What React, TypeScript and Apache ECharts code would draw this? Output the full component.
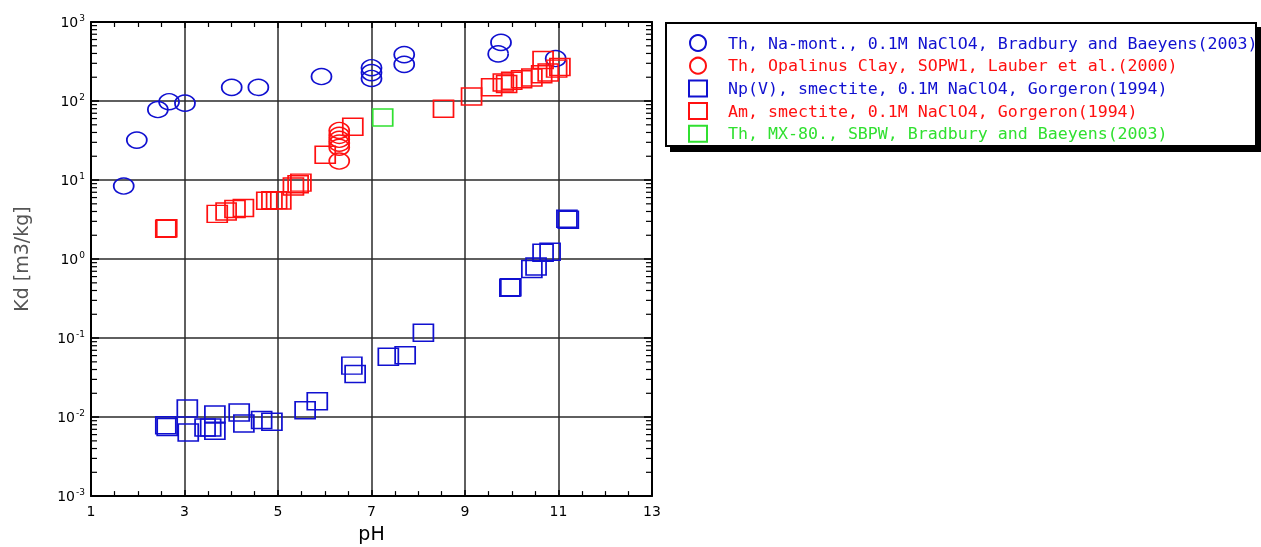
import React, { useEffect, useRef } from "react";
import * as echarts from "echarts";

// [pH, Kd (m3/kg)]
const thNaMont: number[][] = [
  [1.7, 8.4], [1.98, 32], [2.43, 78], [2.67, 98], [3.01, 94],
  [4.01, 149], [4.58, 149], [5.93, 204],
  [7.0, 264], [7.0, 229], [7.0, 193],
  [7.7, 387], [7.7, 291],
  [9.77, 552], [9.71, 395], [10.94, 345],
];
const thOpalinus: number[][] = [
  [6.31, 42.4], [6.31, 36.8], [6.31, 32.8], [6.31, 29.3], [6.31, 26], [6.31, 17.4],
];
const npSmectite: number[][] = [
  [2.63, 0.0075], [2.6, 0.0079], [3.06, 0.0128], [3.08, 0.0064], [3.44, 0.0074],
  [3.56, 0.0074], [3.65, 0.0108], [3.65, 0.0067], [4.17, 0.0114], [4.27, 0.0083],
  [4.65, 0.0092], [4.87, 0.0087], [5.58, 0.0122], [5.84, 0.0159],
  [6.58, 0.0448], [6.65, 0.0352], [7.36, 0.058], [7.72, 0.0608], [8.11, 0.117],
  [9.96, 0.432], [9.98, 0.44], [10.43, 0.746], [10.52, 0.805], [10.67, 1.2], [10.82, 1.24],
  [11.18, 3.23], [11.21, 3.15],
];
const amSmectite: number[][] = [
  [2.6, 2.42], [2.62, 2.45], [3.7, 3.73], [3.89, 3.99], [4.08, 4.3], [4.26, 4.43],
  [4.76, 5.48], [4.87, 5.57], [4.97, 5.57], [5.06, 5.5],
  [5.33, 8.26], [5.43, 8.83], [5.49, 9.27],
  [6.01, 20.9], [6.6, 47.2], [8.54, 79.8], [9.14, 114], [9.57, 149],
  [9.82, 172], [9.89, 164], [10.0, 180], [10.21, 189], [10.43, 199],
  [10.64, 218], [10.78, 229], [10.96, 257], [10.67, 330], [11.03, 270],
];
const thMX80: number[][] = [[7.24, 61.7]];

const seriesNames = [
  "Th, Na-mont., 0.1M NaClO4, Bradbury and Baeyens(2003)",
  "Th, Opalinus Clay, SOPW1, Lauber et al.(2000)",
  "Np(V), smectite, 0.1M NaClO4, Gorgeron(1994)",
  "Am, smectite, 0.1M NaClO4, Gorgeron(1994)",
  "Th, MX-80., SBPW, Bradbury and Baeyens(2003)",
];
const BLUE = "#1010d0";
const RED = "#ff1010";
const GREEN = "#30e030";

const decades = [0.001, 0.01, 0.1, 1, 10, 100];
const minorMultipliers = [2, 3, 4, 5, 6, 7, 8, 9];

const FONT = "DejaVu Sans";
const LEGEND_FONT = "DejaVu Sans Mono";

export default function App() {
  const ref = useRef<HTMLDivElement>(null);
  useEffect(() => {
    if (!ref.current) return;
    const chart = echarts.init(ref.current, null, { renderer: "svg" });
    const minorTicks: number[][] = [];
    decades.forEach((d) => minorMultipliers.forEach((m) => minorTicks.push([1, m * d])));

    const scatter = (name: string, data: number[][], symbol: string, color: string, size: number[]) => ({
      name,
      type: "scatter",
      data,
      symbol,
      symbolSize: size,
      itemStyle: { color: "rgba(0,0,0,0)", borderColor: color, borderWidth: 1.6, opacity: 1 },
      z: 5,
    });

    const axisLineStyle = { lineStyle: { color: "#000", width: 2 } };
    const splitLine = { show: true, lineStyle: { color: "#2a2a2a", width: 1.5 } };

    chart.setOption({
      animation: false,
      grid: { left: 91, right: 609, top: 22, bottom: 44, containLabel: false },
      xAxis: [
        {
          type: "value", min: 1, max: 13, interval: 2, position: "bottom",
          name: "pH", nameLocation: "middle", nameGap: 25,
          nameTextStyle: { fontFamily: FONT, fontSize: 19, color: "#000" },
          axisLine: axisLineStyle,
          axisTick: { show: true, inside: true, length: 6, lineStyle: { color: "#000", width: 1.5 } },
          minorTick: { show: true, splitNumber: 4, length: 5, lineStyle: { color: "#000", width: 1.2 } },
          axisLabel: { fontFamily: FONT, fontSize: 14, color: "#000", margin: 8 },
          splitLine,
        },
        {
          type: "value", min: 1, max: 13, interval: 2, position: "top",
          axisLine: axisLineStyle,
          axisTick: { show: true, inside: true, length: 6, lineStyle: { color: "#000", width: 1.5 } },
          minorTick: { show: true, splitNumber: 4, length: 5, lineStyle: { color: "#000", width: 1.2 } },
          axisLabel: { show: false },
          splitLine: { show: false },
        },
      ],
      yAxis: [
        {
          type: "log", logBase: 10, min: 0.001, max: 1000, position: "left",
          name: "Kd [m3/kg]", nameLocation: "middle", nameGap: 61,
          nameTextStyle: { fontFamily: FONT, fontSize: 19, color: "#555" },
          axisLine: axisLineStyle,
          axisTick: { show: true, inside: true, length: 8, lineStyle: { color: "#000", width: 1.5 } },
          axisLabel: {
            margin: 6,
            formatter: (v: number) => `{b|10}{s|${Math.round(Math.log10(v))}}`,
            rich: {
              b: { fontFamily: FONT, fontSize: 14, color: "#000" },
              s: { fontFamily: FONT, fontSize: 9, color: "#000", verticalAlign: "top", padding: [0, 0, 8, 1] },
            },
          },
          splitLine,
        },
        {
          type: "log", logBase: 10, min: 0.001, max: 1000, position: "right",
          axisLine: axisLineStyle,
          axisTick: { show: true, inside: true, length: 8, lineStyle: { color: "#000", width: 1.5 } },
          axisLabel: { show: false },
          splitLine: { show: false },
        },
      ],
      legend: {
        orient: "vertical",
        left: 688,
        top: 34,
        padding: 0,
        itemWidth: 18,
        itemHeight: 16,
        itemGap: 4.7,
        data: [
          { name: seriesNames[0], textStyle: { color: BLUE } },
          { name: seriesNames[1], textStyle: { color: RED } },
          { name: seriesNames[2], textStyle: { color: BLUE } },
          { name: seriesNames[3], textStyle: { color: RED } },
          { name: seriesNames[4], textStyle: { color: GREEN } },
        ],
        textStyle: { fontFamily: LEGEND_FONT, fontSize: 16.6, lineHeight: 16, padding: [0, 0, 0, 16] },
        z: 10,
      },
      graphic: [
        { type: "rect", shape: { x: 670, y: 27, width: 591, height: 125 }, style: { fill: "#000" }, z: 1 },
        { type: "rect", shape: { x: 666, y: 23, width: 590, height: 123 }, style: { fill: "#fff", stroke: "#000", lineWidth: 2 }, z: 2 },
      ],
      series: [
        scatter(seriesNames[0], thNaMont, "circle", BLUE, [20, 16]),
        scatter(seriesNames[1], thOpalinus, "circle", RED, [20, 16]),
        scatter(seriesNames[2], npSmectite, "rect", BLUE, [20, 17]),
        scatter(seriesNames[3], amSmectite, "rect", RED, [20, 17]),
        scatter(seriesNames[4], thMX80, "rect", GREEN, [20, 17]),
        {
          name: "minorTicks",
          type: "custom",
          silent: true,
          clip: false,
          z: 6,
          data: minorTicks,
          renderItem: (_p: any, api: any) => {
            const v = api.value(1);
            const a = api.coord([1, v]);
            const b = api.coord([13, v]);
            return {
              type: "group",
              children: [
                { type: "line", shape: { x1: a[0], y1: a[1], x2: a[0] + 6, y2: a[1] }, style: { stroke: "#000", lineWidth: 1.2 } },
                { type: "line", shape: { x1: b[0] - 6, y1: b[1], x2: b[0], y2: b[1] }, style: { stroke: "#000", lineWidth: 1.2 } },
              ],
            };
          },
        },
      ],
    });
    return () => chart.dispose();
  }, []);
  return <div ref={ref} style={{ position: "fixed", left: 0, top: 0, width: 1261, height: 547 }} />;
}
